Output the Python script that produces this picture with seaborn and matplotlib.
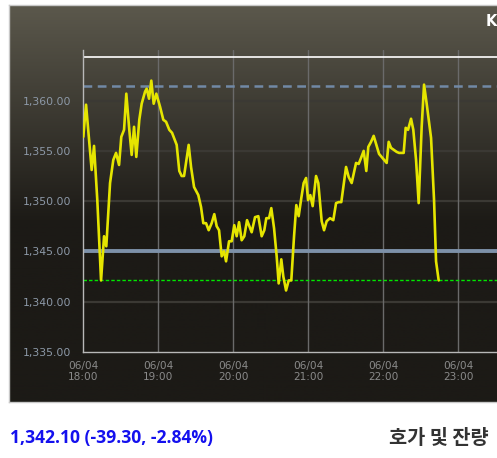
import numpy as np
import pandas as pd
import matplotlib
matplotlib.use('Agg')
import matplotlib.pyplot as plt
import matplotlib.dates as mdates
from matplotlib.colors import LinearSegmentedColormap
import seaborn as sns

# minutes after 18:00 and price
minutes = [0.0, 2.2, 6.7, 8.6, 11.2, 14.2, 16.6, 18.4, 21.4, 24.0, 26.2, 28.6, 30.4, 32.6,
           34.4, 36.8, 38.7, 40.6, 42.4, 44.8, 46.7, 49.4, 50.7, 52.6, 54.4, 56.3, 58.4,
           61.4, 64.0, 66.2, 68.8, 71.0, 74.7, 76.8, 78.7, 80.6, 84.3, 86.2, 88.6, 92.0,
           94.2, 96.0, 98.2, 100.3, 102.7, 104.8, 106.7, 108.6, 110.7, 112.6, 114.2, 116.6,
           118.7, 120.8, 122.7, 124.6, 126.7, 128.8, 131.0, 134.7, 137.4, 140.0, 142.7,
           144.8, 146.4, 148.6, 150.4, 152.6, 154.7, 156.3, 158.4, 160.0, 162.2, 164.3,
           166.4, 168.6, 170.4, 172.3, 174.4, 176.3, 178.2, 179.8, 181.6, 183.5, 186.2,
           188.0, 190.7, 192.6, 194.7, 197.4, 200.0, 202.2, 204.3, 206.4, 210.2, 212.3,
           214.7, 218.2, 220.3, 222.2, 224.3, 226.4, 228.0, 230.2, 232.3, 236.6, 242.7,
           244.3, 246.2, 250.7, 252.6, 256.3, 257.9, 259.8, 262.2, 264.0, 266.2, 268.3,
           270.7, 272.6, 274.7, 278.2, 280.6, 282.2, 284.3]
prices = [1356.4, 1359.6, 1353.1, 1355.5, 1350.1, 1342.1, 1346.5, 1345.5, 1351.8, 1354.1,
          1354.8, 1353.6, 1356.4, 1357.1, 1360.7, 1357.1, 1354.6, 1357.4, 1354.4, 1358.1,
          1359.7, 1360.9, 1361.2, 1360.2, 1362.0, 1359.7, 1360.7, 1359.4, 1358.1, 1357.9,
          1357.1, 1356.8, 1355.6, 1353.0, 1352.5, 1352.5, 1355.6, 1353.4, 1351.4, 1350.6,
          1349.4, 1347.8, 1347.8, 1347.1, 1347.8, 1348.7, 1347.5, 1347.1, 1344.5, 1345.0,
          1344.0, 1346.0, 1346.0, 1347.6, 1346.5, 1347.9, 1346.1, 1346.5, 1348.1, 1346.9,
          1348.4, 1348.5, 1346.5, 1347.1, 1348.3, 1348.3, 1349.3, 1347.3, 1344.5, 1341.8,
          1344.2, 1342.5, 1341.1, 1342.1, 1342.1, 1346.5, 1349.6, 1348.5, 1350.3, 1351.8,
          1352.3, 1350.1, 1350.6, 1349.5, 1352.5, 1351.8, 1348.0, 1347.1, 1348.0, 1348.3,
          1348.1, 1349.8, 1349.9, 1349.9, 1353.4, 1352.4, 1351.8, 1353.8, 1353.7, 1354.3,
          1355.0, 1353.0, 1355.4, 1355.9, 1356.5, 1354.7, 1353.8, 1355.9, 1355.3, 1354.9,
          1354.8, 1354.8, 1357.3, 1357.1, 1358.2, 1357.1, 1354.1, 1349.8, 1357.4, 1361.6,
          1359.7, 1356.3, 1350.1, 1344.0, 1342.1]

day_high = 1361.45
ref_line = 1345.0
last_price = 1342.10
top_line = 1364.35
y_ticks = [1335, 1340, 1345, 1350, 1355, 1360, 1365]
y_labels = ['1,335.00', '1,340.00', '1,345.00', '1,350.00', '1,355.00', '1,360.00', '']
hour_ticks = [18, 19, 20, 21, 22, 23]
price_text = '1,342.10 (-39.30, -2.84%)'
side_text = '호가 및 잔량'

start = pd.Timestamp('2024-06-04 18:00')
df = pd.DataFrame({'time': start + pd.to_timedelta(minutes, unit='min'), 'price': prices})

sns.set_style('white')
plt.rcParams['font.family'] = ['DejaVu Sans']

W, H = 497, 458
fig = plt.figure(figsize=(W / 100, H / 100), dpi=100, facecolor='white')

# dark gradient panel behind the chart
bg = fig.add_axes([9 / W, (H - 402) / H, (W - 9 + 20) / W, (402 - 5) / H], zorder=0)
grad = np.clip(np.linspace(0, 1, 400) / 0.55, 0, 1)
cmap = LinearSegmentedColormap.from_list('panel', ['#5b584c', '#1c1a16'])
bg.imshow(grad[:, None], aspect='auto', cmap=cmap, extent=[0, 1, 0, 1])
bg.set_xticks([])
bg.set_yticks([])
for s in bg.spines.values():
    s.set_color('#c8c8c8')
    s.set_linewidth(1)

ax = fig.add_axes([83.3 / W, (H - 351.7) / H, 450 / W, (351.7 - 50) / H], zorder=1)
ax.set_facecolor('none')

for y in [1340, 1350, 1355, 1360]:
    ax.axhline(y, color='#3b3934', lw=1.6, zorder=1)
for h in hour_ticks[1:]:
    ax.axvline(start + pd.Timedelta(hours=h - 18), color='#6a6a6a', lw=1, zorder=1)

ax.axhline(top_line, color='white', lw=1.2, zorder=2)
ax.axhline(day_high, color='#7189a6', lw=1.8, ls=(0, (3.5, 2.2)), zorder=2)
ax.axhline(ref_line, color='#7d91a9', lw=2.8, zorder=2)
ax.axhline(last_price, color='#00e600', lw=1, ls=(0, (2.5, 1.5)), zorder=2)

sns.lineplot(data=df, x='time', y='price', color='#e5e500', lw=1.9, estimator=None, ax=ax, zorder=3)

ax.set_xlim(start, start + pd.Timedelta(hours=6))
ax.set_ylim(1335, 1365.05)
ax.set_yticks(y_ticks)
ax.set_yticklabels(y_labels)
ax.set_xticks([start + pd.Timedelta(hours=h - 18) for h in hour_ticks])
ax.xaxis.set_major_formatter(mdates.DateFormatter('%m/%d\n%H:%M'))
ax.set_xlabel('')
ax.set_ylabel('')

ax.tick_params(axis='y', length=6, width=1, color='#b0b0b0', pad=3, labelsize=7.8, labelcolor='#8d99a8')
ax.tick_params(axis='x', length=3.6, width=1, color='#b0b0b0', pad=3, labelsize=7.6, labelcolor='#8a8a8a')
for lbl in ax.get_xticklabels():
    lbl.set_linespacing(1.1)

for side in ['top', 'right']:
    ax.spines[side].set_visible(False)
for side in ['left', 'bottom']:
    ax.spines[side].set_color('#b8b8b8')
    ax.spines[side].set_linewidth(1)

fig.text(486 / W, (H - 21) / H, 'K', color='white', fontsize=10.5, fontweight='bold',
         ha='left', va='center', family=['DejaVu Sans'])
fig.text(10 / W, (H - 438.3) / H, price_text, color='#1410ee', fontsize=12.6,
         fontweight='bold', ha='left', va='center', family=['Open Sans', 'DejaVu Sans'])
fig.text(489 / W, (H - 438.3) / H, side_text, color='#333333', fontsize=14.2,
         fontweight='bold', ha='right', va='center', family=['Noto Sans CJK KR', 'DejaVu Sans'])

fig.savefig('out.png', dpi=100, facecolor='white')
